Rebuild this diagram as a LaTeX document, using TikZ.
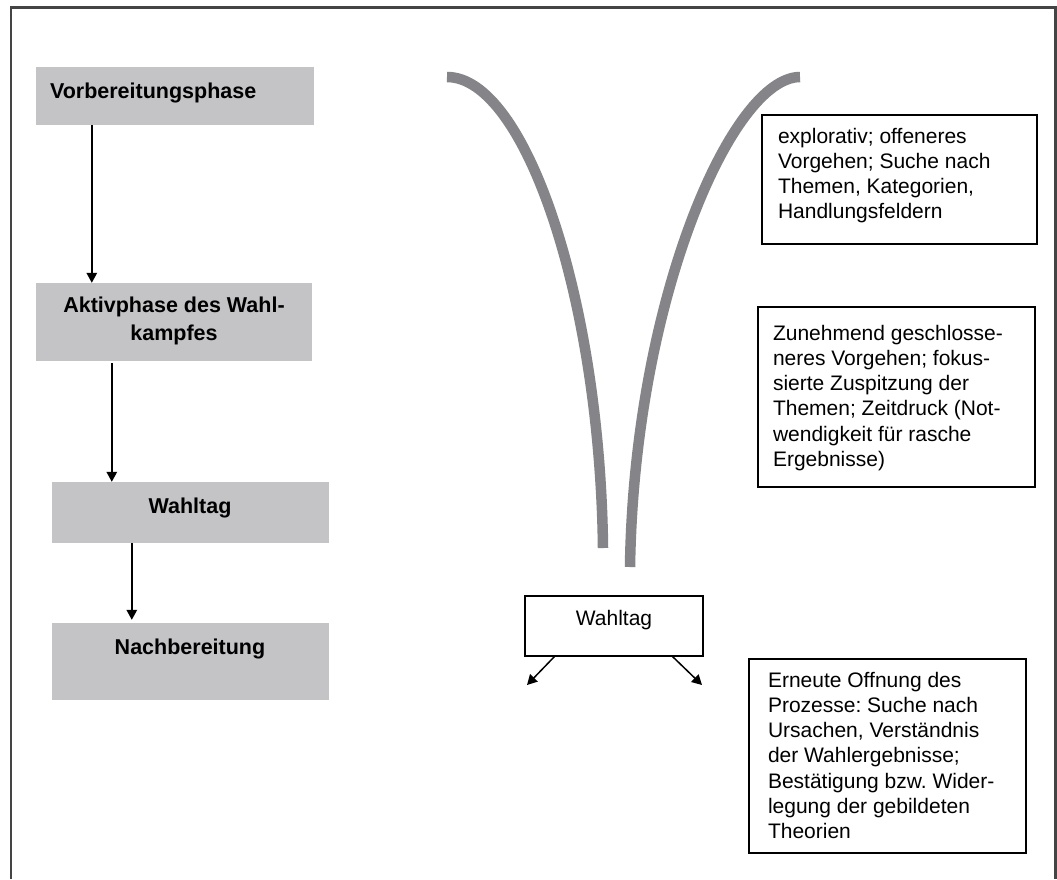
\documentclass[tikz,border=0pt]{standalone}
\usepackage{fontspec}
\setmainfont{Liberation Sans}
\usetikzlibrary{arrows.meta,calc}
\definecolor{boxgray}{RGB}{196,195,198}
\definecolor{curvegray}{RGB}{133,132,136}
\definecolor{framegray}{RGB}{68,68,68}
\newcommand\boldtxt{\fontsize{21.5}{28}\selectfont\bfseries}
\newcommand\plaintxt{\fontsize{21}{25.3}\selectfont}
\frenchspacing
\begin{document}
\begin{tikzpicture}[x=1pt,y=-1pt,
  graybox/.style={fill=boxgray, draw=none, inner sep=0pt},
  whitebox/.style={fill=white, draw=black, line width=1.4pt, inner sep=0pt},
  lbl/.style={inner sep=0pt, outer sep=0pt},
  arr/.style={draw=black, line width=1.5pt, -{Triangle[length=10pt,width=10.5pt]}},
  bigcurve/.style={draw=curvegray, line width=10.5pt}]
\fill[white] (0,0) rectangle (1057,879);
\useasboundingbox (0,0) rectangle (1057,879);
% frame
\draw[framegray, line width=2.2pt] (11,879) -- (11,7.5) -- (1055.5,7.5) -- (1055.5,879);

% left phase boxes
\node[graybox, minimum width=278pt, minimum height=58pt] (b1) at (175,96) {};
\node[graybox, minimum width=276pt, minimum height=78pt] (b2) at (174,322) {};
\node[graybox, minimum width=277pt, minimum height=61pt] (b3) at (190.5,512.5) {};
\node[graybox, minimum width=277pt, minimum height=77pt] (b4) at (190.5,661.5) {};

\node[lbl, anchor=base west] (t1) at (50,98) {\boldtxt Vorbereitungsphase};
\node[lbl, anchor=base] (t2) at (174,312) {\parbox[t]{270pt}{\boldtxt\centering Aktivphase des Wahl-\\kampfes}};
\node[lbl, anchor=base] (t3) at (190,513) {\boldtxt Wahltag};
\node[lbl, anchor=base] (t4) at (190,654) {\boldtxt Nachbereitung};

\draw[arr] ($(b1.south west)+(56,0)$) -- ($(b2.north west)+(56,0)$);
\draw[arr] ($(b2.south west)+(76,2)$) -- ($(b3.north west)+(60,0)$);
\draw[arr] ($(b3.south west)+(80,0)$) -- ($(b4.north west)+(80,-3)$);

% funnel curves
\draw[bigcurve] (447,77) .. controls (525,77) and (600,298) .. (603,548);
\draw[bigcurve] (800,77) .. controls (732,77) and (634,300) .. (630,567);

% right text boxes
\node[whitebox, minimum width=275pt, minimum height=129pt] (ba) at (899.5,179.5) {};
\node[whitebox, minimum width=277pt, minimum height=180pt] (bb) at (896.5,397) {};
\node[whitebox, minimum width=277pt, minimum height=194pt] (bc) at (887.5,756) {};
\node[whitebox, minimum width=178pt, minimum height=60pt] (w) at (614,626) {};

\node[lbl, anchor=base west] (ta) at (778,143) {\parbox[t]{300pt}{\plaintxt\raggedright explorativ; offeneres\\Vorgehen; Suche nach\\Themen, Kategorien,\\Handlungsfeldern}};
\node[lbl, anchor=base west] (tb) at (773,340) {\parbox[t]{300pt}{\plaintxt\raggedright Zunehmend geschlosse-\\neres Vorgehen; fokus-\\sierte Zuspitzung der\\Themen; Zeitdruck (Not-\\wendigkeit für rasche\\Ergebnisse)}};
\node[lbl, anchor=base west] (tc) at (768,687) {\parbox[t]{300pt}{\plaintxt\raggedright Erneute Offnung des\\Prozesse: Suche nach\\Ursachen, Verständnis\\der Wahlergebnisse;\\Bestätigung bzw. Wider-\\legung der gebildeten\\Theorien}};
\node[lbl, anchor=base] (tw) at (614,625) {\plaintxt Wahltag};

\coordinate (dl) at (527,685);
\coordinate (dr) at (702,685);
\draw[arr] ($(w.south west)+(30,0)$) -- (dl);
\draw[arr] ($(w.south east)+(-31,0)$) -- (dr);
\end{tikzpicture}
\end{document}
